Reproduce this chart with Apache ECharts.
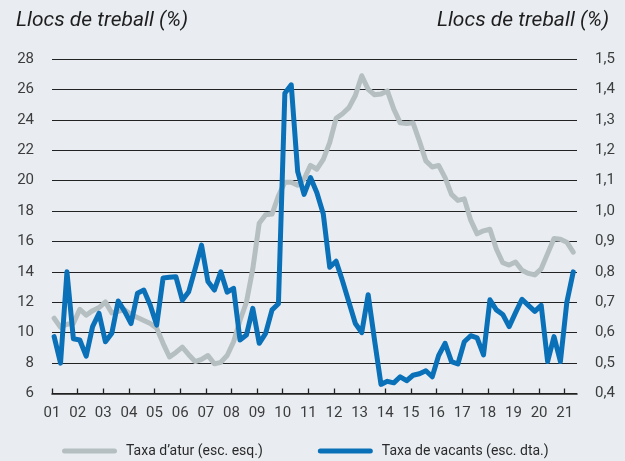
<!DOCTYPE html>
<html>
<head>
<meta charset="utf-8">
<script src="https://cdn.jsdelivr.net/npm/echarts@6/dist/echarts.min.js"></script>
<style>
html,body{margin:0;padding:0;background:#e9edf2;}
#chart{width:625px;height:461px;}
</style>
</head>
<body>
<div id="chart"></div>
<script>
// Quarterly data, 2001 Q1 .. 2021 Q2
var startYear = 2001;
var yearTicks = [2001,2002,2003,2004,2005,2006,2007,2008,2009,2010,2011,2012,2013,2014,2015,2016,2017,2018,2019,2020,2021];
var titleText = 'Llocs de treball (%)';
var seriesNames = ['Taxa d\u2019atur (esc. esq.)', 'Taxa de vacants (esc. dta.)'];

// Taxa d'atur (left axis, %)
var unemployment = [
  10.95,10.35,10.55,10.6, 11.54,11.15,11.45,11.65,
  12.02,11.3,11.4,11.5, 11.2,11.0,10.8,10.6,
  10.3,9.3,8.4,8.7, 9.05,8.55,8.1,8.25,
  8.5,7.95,8.05,8.5, 9.4,10.8,12.0,14.2,
  17.2,17.75,17.8,19.0, 19.9,19.9,19.7,20.1,
  21.0,20.75,21.4,22.5, 24.1,24.4,24.8,25.6,
  26.9,26.0,25.65,25.7, 25.9,24.7,23.8,23.75,
  23.8,22.6,21.3,20.9, 21.0,20.2,19.1,18.7,
  18.8,17.4,16.5,16.7, 16.8,15.5,14.6,14.45,
  14.65,14.1,13.9,13.8, 14.2,15.2,16.2,16.15,
  15.95,15.3
];

// Taxa de vacants (right axis, %)
var vacancies = [
  0.587,0.50,0.80,0.58, 0.576,0.523,0.62,0.664,
  0.57,0.598,0.704,0.67, 0.63,0.73,0.74,0.69,
  0.625,0.78,0.782,0.784, 0.707,0.735,0.81,0.888,
  0.768,0.74,0.80,0.733, 0.746,0.576,0.592,0.68,
  0.565,0.598,0.675,0.695, 1.387,1.415,1.13,1.055,
  1.11,1.06,0.99,0.815, 0.835,0.77,0.70,0.63,
  0.60,0.725,0.575,0.43, 0.44,0.435,0.455,0.442,
  0.46,0.465,0.475,0.455, 0.525,0.565,0.505,0.497,
  0.57,0.59,0.583,0.527, 0.708,0.675,0.66,0.62,
  0.666,0.71,0.69,0.67, 0.69,0.505,0.587,0.505,
  0.70,0.80
];

// position each quarter at its middle month
function quarterX(i){ return startYear + Math.floor(i/4) + (i%4)/4 + 1/12; }
function toPairs(arr){ return arr.map(function(v,i){ return [quarterX(i), v]; }); }

var font = 'Roboto, "Open Sans", sans-serif';
var titleFont = '"Liberation Sans Narrow", Roboto, sans-serif';
var pill = 'path://M2.5,0 L52.5,0 A2.5,2.5 0 0 1 52.5,5 L2.5,5 A2.5,2.5 0 0 1 2.5,0 Z';
var chart = echarts.init(document.getElementById('chart'), null, {renderer:'canvas'});
chart.setOption({
  backgroundColor: '#e9edf2',
  animation: false,
  title: [
    {text: titleText, left: 11, top: 5, textStyle:{fontFamily: titleFont, fontStyle:'italic', fontWeight:'normal', fontSize:21, color:'#1e1e1e'}},
    {text: titleText, right: 11, top: 5, textStyle:{fontFamily: titleFont, fontStyle:'italic', fontWeight:'normal', fontSize:21, color:'#1e1e1e'}}
  ],
  grid: {left: 52, right: 48, top: 59, bottom: 67.5, containLabel: false},
  legend: {
    left: 57, top: 439, itemWidth: 55, itemHeight: 5, itemGap: 55,
    textStyle: {fontFamily: font, fontSize: 14, color: '#2a2a2a', padding:[0,0,0,4]},
    data: [
      {name: seriesNames[0], icon: pill},
      {name: seriesNames[1], icon: pill}
    ]
  },
  xAxis: {
    type: 'value', min: 2001, max: 2021.48, interval: 1,
    axisLine: {show: true, lineStyle: {color: '#222', width: 1.6}},
    axisTick: {show: true, inside: true, length: 5, customValues: yearTicks, lineStyle:{color:'#222', width:1.3}},
    axisLabel: {customValues: yearTicks, margin: 12, fontFamily: font, fontSize: 15, color: '#3c3c3c',
      formatter: function(v){ return String(Math.round(v)).slice(2); }},
    splitLine: {show: false}
  },
  yAxis: [
    {type: 'value', min: 6, max: 28, interval: 2, position: 'left',
     axisLine:{show:false}, axisTick:{show:false},
     axisLabel:{margin: 18, fontFamily: font, fontSize: 15, color: '#3c3c3c'},
     splitLine:{show:true, lineStyle:{color:'#222', width:1.2}}},
    {type: 'value', min: 0.4, max: 1.5, interval: 0.1, position: 'right',
     axisLine:{show:false}, axisTick:{show:false},
     axisLabel:{margin: 18, fontFamily: font, fontSize: 15, color: '#3c3c3c',
       formatter: function(v){ return v.toFixed(1).replace('.', ','); }},
     splitLine:{show:false}}
  ],
  series: [
    {name: seriesNames[0], type:'line', yAxisIndex: 0, data: toPairs(unemployment),
     showSymbol:false, symbol:'none', color:'#b5bfc2',
     lineStyle:{width:5, color:'#b5bfc2', cap:'round', join:'round'}},
    {name: seriesNames[1], type:'line', yAxisIndex: 1, data: toPairs(vacancies),
     showSymbol:false, symbol:'none', color:'#0a70b8',
     lineStyle:{width:5, color:'#0a70b8', cap:'round', join:'round'}}
  ]
});
</script>
</body>
</html>
